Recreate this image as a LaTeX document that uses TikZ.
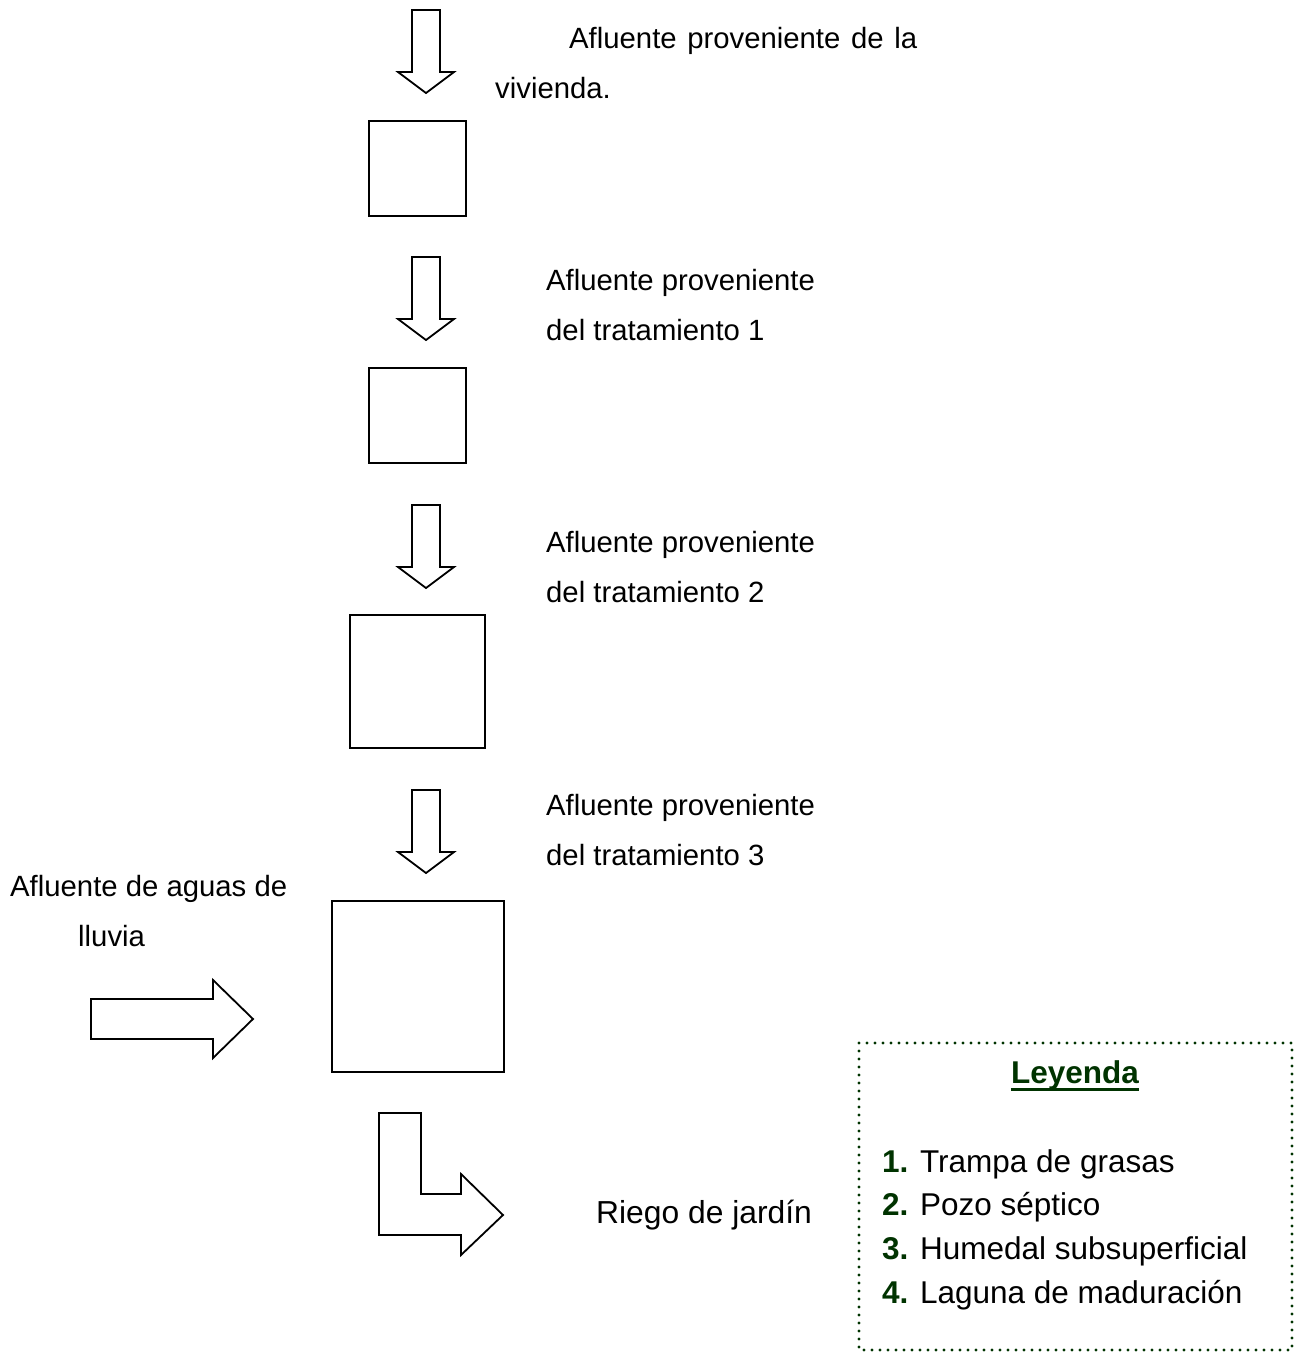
\documentclass[tikz,border=0pt]{standalone}
\usepackage{fontspec}
\setmainfont{Liberation Sans}
\definecolor{legendgreen}{RGB}{0,51,0}
\begin{document}
\begin{tikzpicture}
[x=1pt, y=-1pt,
  boxdecorate/.style={draw, line width=1.8pt, inner sep=0pt},
  arrowdecorate/.style={draw, line width=1.8pt, line join=miter},
  textdecorate/.style={anchor=base west, inner sep=0pt,
    font=\fontsize{29.3}{35}\selectfont},
  itemdecorate/.style={anchor=base west, inner sep=0pt,
    font=\fontsize{31.5}{38}\selectfont},
  legenddecorate/.style={draw=legendgreen, line width=3.2pt,
    dash pattern=on 0pt off 8pt, line cap=round},
  downarrow/.pic={
    \draw[arrowdecorate] (-14,0) -- (14,0) -- (14,62) -- (28,62)
      -- (0,83) -- (-28,62) -- (-14,62) -- cycle;
  }]
\useasboundingbox (0,0) rectangle (1303,1353);
%% treatment units
\foreach \nodename/\x/\y/\w/\h in {b1/417.5/168.5/97/95,
  b2/417.5/415.5/97/95, b3/417.5/681.5/135/133, b4/418/986.5/172/171}
{
  \node (\nodename) at (\x,\y) [boxdecorate, minimum width=\w pt,
    minimum height=\h pt] {};
}
%% flow arrows
\foreach \arrowname/\y in {f1/10, f2/257, f3/505, f4/790}
{
  \pic (\arrowname) at (426,\y) {downarrow};
}
\draw[arrowdecorate] (91,999) -- (213,999) -- (213,980) -- (253,1019)
  -- (213,1058) -- (213,1039) -- (91,1039) -- cycle;
\draw[arrowdecorate] (379,1113) -- (421,1113) -- (421,1194) -- (461,1194)
  -- (461,1174) -- (503,1215) -- (461,1255) -- (461,1235) -- (379,1235)
  -- cycle;
%% labels
\foreach \nodename/\x/\y/\content in {
  t1a/569/48/{\makebox[348pt][s]{Afluente proveniente de la}},
  t1b/495/98/{vivienda.},
  t2a/546/290/{Afluente proveniente}, t2b/546/340/{del tratamiento 1},
  t3a/546/552/{Afluente proveniente}, t3b/546/602/{del tratamiento 2},
  t4a/546/815/{Afluente proveniente}, t4b/546/865/{del tratamiento 3},
  r1/10/896/{Afluente de aguas de}, r2/78/946/{lluvia}}
{
  \node (\nodename) at (\x,\y) [textdecorate] {\content};
}
\node (out) at (596,1223) [textdecorate, font=\fontsize{31.8}{38}\selectfont]
  {Riego de jardín};
%% legend
\draw[legenddecorate] (859,1043) rectangle (1292,1350);
\node (leyenda) at (1075,1083) [anchor=base, inner sep=0pt,
  font=\fontsize{31.5}{38}\selectfont\bfseries, text=legendgreen] {Leyenda};
\draw[legendgreen, line width=2.4pt] ([yshift=-6.5pt]leyenda.base west)
  -- ([yshift=-6.5pt]leyenda.base east);
\foreach \nodename/\y/\num/\content in {l1/1172/1/Trampa de grasas,
  l2/1215/2/Pozo séptico, l3/1259/3/Humedal subsuperficial,
  l4/1303/4/Laguna de maduración}
{
  \node (\nodename) at (882,\y) [itemdecorate]
    {\textcolor{legendgreen}{\bfseries\num.} \content};
}
\end{tikzpicture}
\end{document}
